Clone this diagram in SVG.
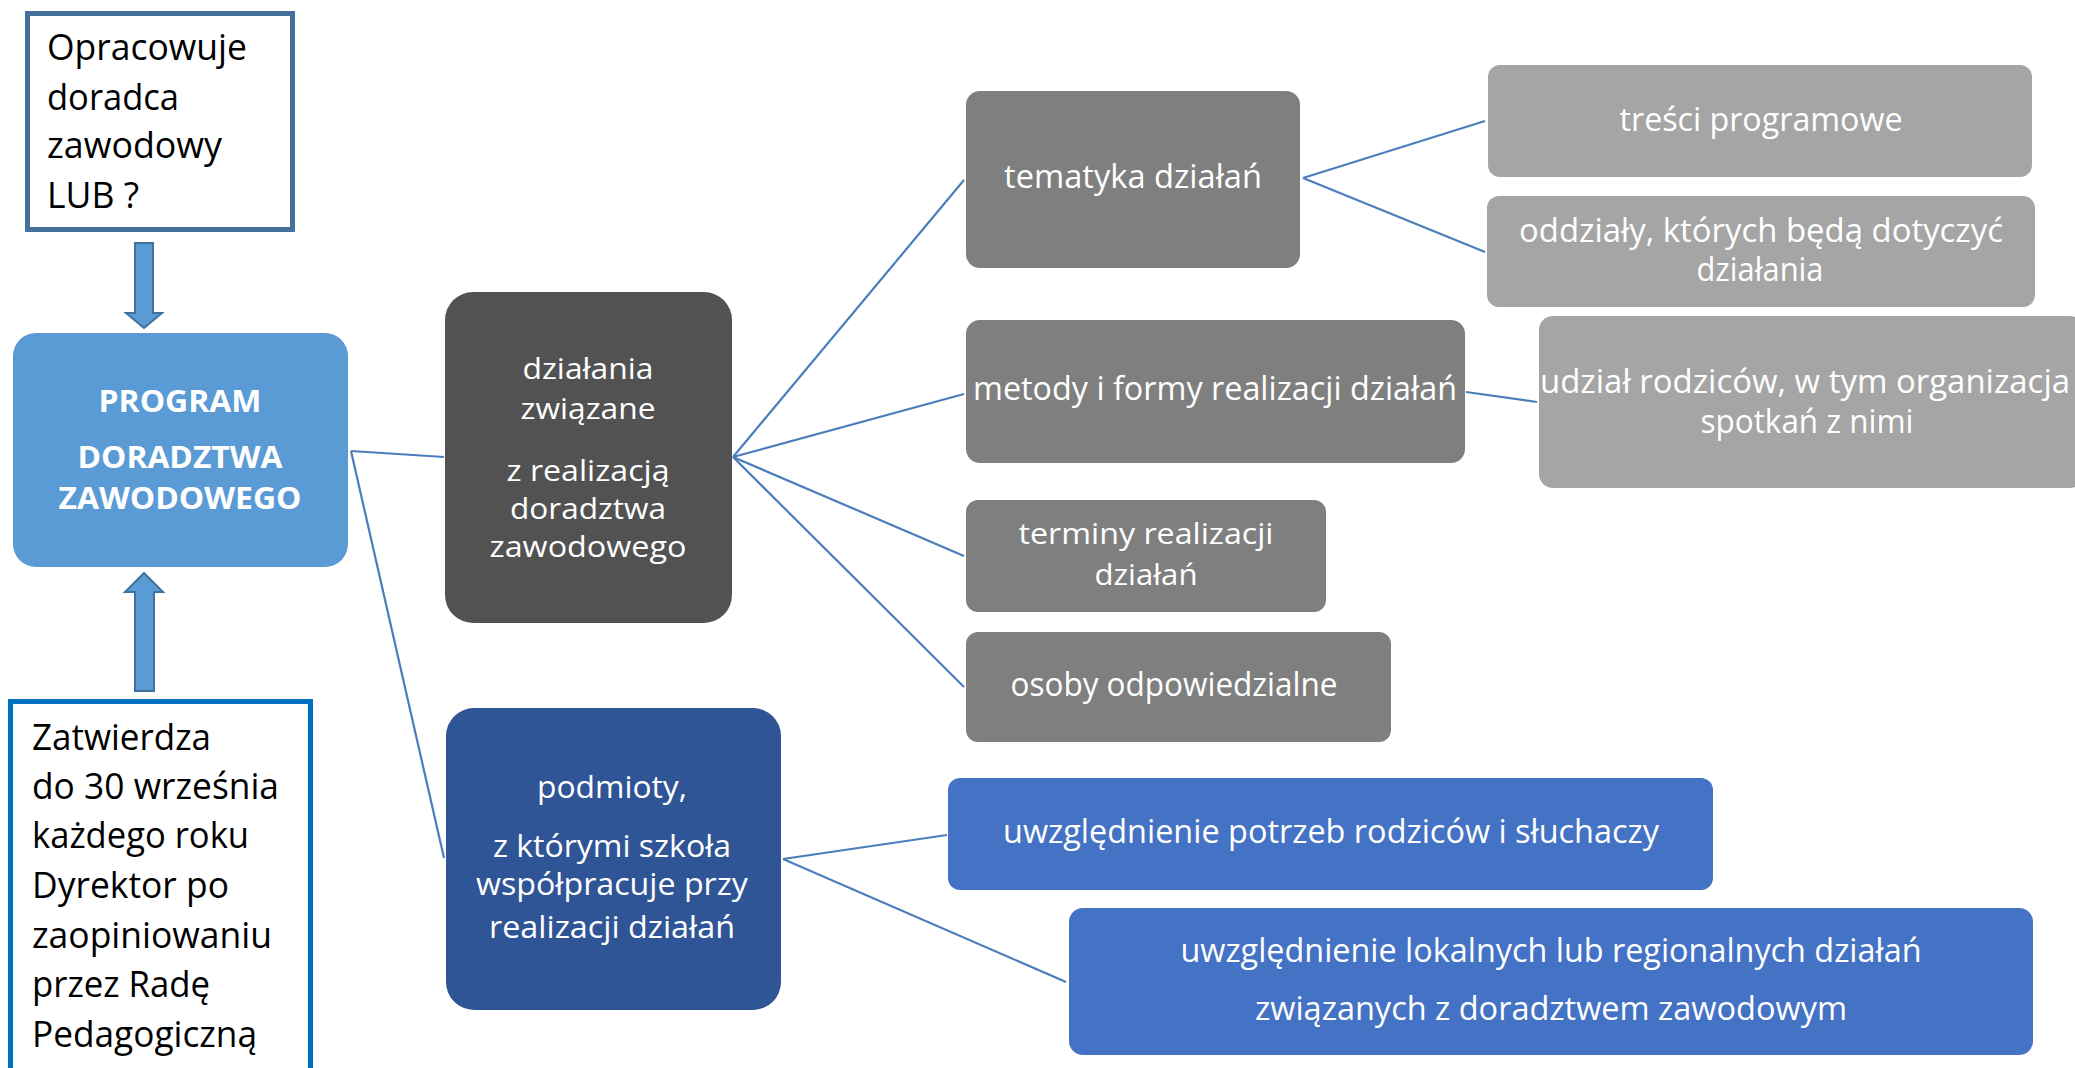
<svg xmlns="http://www.w3.org/2000/svg" width="2075" height="1068" viewBox="0 0 2075 1068">
<style>
text{font-family:"Open Sans","Noto Sans","DejaVu Sans",sans-serif;}
.w{fill:#ffffff;text-anchor:middle;}
.k{fill:#000000;}
.l35{font-size:36px;}
.r32{font-size:32px;}
.d30{font-size:31px;}
.dk{font-size:30px;}
.t30{font-size:30px;}
.b{font-weight:bold;font-size:31px;}
.conn{stroke:#4a7ebb;stroke-width:2.2;fill:none;}
.arrow{fill:#5b9bd5;stroke:#41719c;stroke-width:2;}
.g1{fill:#7f7f7f;}
.g2{fill:#a5a5a5;}
.bl{fill:#4472c4;}
</style>
<rect width="2075" height="1068" fill="#ffffff"/>
<g id="connectors">
<line class="conn" x1="351" y1="451" x2="444" y2="457"/>
<line class="conn" x1="351" y1="451" x2="444" y2="858"/>
<line class="conn" x1="733" y1="457" x2="964" y2="180"/>
<line class="conn" x1="733" y1="457" x2="964" y2="394"/>
<line class="conn" x1="733" y1="457" x2="964" y2="556"/>
<line class="conn" x1="733" y1="457" x2="964" y2="687"/>
<line class="conn" x1="1303" y1="178" x2="1485" y2="121"/>
<line class="conn" x1="1303" y1="178" x2="1485" y2="252"/>
<line class="conn" x1="1466" y1="392" x2="1537" y2="402"/>
<line class="conn" x1="783" y1="859" x2="947" y2="835"/>
<line class="conn" x1="783" y1="859" x2="1066" y2="982"/>
<path class="arrow" d="M135,243 H153 V313 H162 L144,328 L126,313 H135 Z"/>
<path class="arrow" d="M135,691 V592 H125 L144,573 L163,592 H154 V691 Z"/>
</g>
<g id="node-opracowuje">
<rect x="27.5" y="13.5" width="265" height="216" fill="#ffffff" stroke="#46709c" stroke-width="5"/>
<text class="k l35" x="47" y="60" textLength="200" lengthAdjust="spacingAndGlyphs">Opracowuje</text>
<text class="k l35" x="47" y="110" textLength="132" lengthAdjust="spacingAndGlyphs">doradca</text>
<text class="k l35" x="47" y="158" textLength="175" lengthAdjust="spacingAndGlyphs">zawodowy</text>
<text class="k l35" x="47" y="208" textLength="92" lengthAdjust="spacingAndGlyphs">LUB ?</text>
</g>
<g id="node-program">
<rect x="13" y="333" width="335" height="234" rx="23" fill="#5b9bd5"/>
<text class="w b" x="180" y="412" textLength="163" lengthAdjust="spacingAndGlyphs">PROGRAM</text>
<text class="w b" x="180" y="468" textLength="205" lengthAdjust="spacingAndGlyphs">DORADZTWA</text>
<text class="w b" x="180" y="509" textLength="243" lengthAdjust="spacingAndGlyphs">ZAWODOWEGO</text>
</g>
<g id="node-zatwierdza">
<rect x="10.5" y="701.5" width="300" height="380" fill="#ffffff" stroke="#0070c0" stroke-width="5"/>
<text class="k l35" x="32" y="750" textLength="179" lengthAdjust="spacingAndGlyphs">Zatwierdza</text>
<text class="k l35" x="32" y="799" textLength="247" lengthAdjust="spacingAndGlyphs">do 30 września</text>
<text class="k l35" x="32" y="848" textLength="217" lengthAdjust="spacingAndGlyphs">każdego roku</text>
<text class="k l35" x="32" y="898" textLength="197" lengthAdjust="spacingAndGlyphs">Dyrektor po</text>
<text class="k l35" x="32" y="948" textLength="240" lengthAdjust="spacingAndGlyphs">zaopiniowaniu</text>
<text class="k l35" x="32" y="997" textLength="178" lengthAdjust="spacingAndGlyphs">przez Radę</text>
<text class="k l35" x="32" y="1047" textLength="225" lengthAdjust="spacingAndGlyphs">Pedagogiczną</text>
</g>
<g id="node-dzialania">
<rect x="445" y="292" width="287" height="331" rx="28" fill="#525252"/>
<text class="w dk" x="588" y="379" textLength="131" lengthAdjust="spacingAndGlyphs">działania</text>
<text class="w dk" x="588" y="419" textLength="135" lengthAdjust="spacingAndGlyphs">związane</text>
<text class="w dk" x="588" y="481" textLength="163" lengthAdjust="spacingAndGlyphs">z realizacją</text>
<text class="w dk" x="588" y="519" textLength="156" lengthAdjust="spacingAndGlyphs">doradztwa</text>
<text class="w dk" x="588" y="557" textLength="197" lengthAdjust="spacingAndGlyphs">zawodowego</text>
</g>
<g id="node-podmioty">
<rect x="446" y="708" width="335" height="302" rx="28" fill="#2f5597"/>
<text class="w d30" x="612" y="798" textLength="150" lengthAdjust="spacingAndGlyphs">podmioty,</text>
<text class="w d30" x="612" y="857" textLength="238" lengthAdjust="spacingAndGlyphs">z którymi szkoła</text>
<text class="w d30" x="612" y="895" textLength="272" lengthAdjust="spacingAndGlyphs">współpracuje przy</text>
<text class="w d30" x="612" y="938" textLength="246" lengthAdjust="spacingAndGlyphs">realizacji działań</text>
</g>
<g id="node-tematyka">
<rect class="g1" x="966" y="91" width="334" height="177" rx="14"/>
<text class="w r32" x="1133" y="188" textLength="258" lengthAdjust="spacingAndGlyphs">tematyka działań</text>
</g>
<g id="node-tresci">
<rect class="g2" x="1488" y="65" width="544" height="112" rx="12"/>
<text class="w r32" x="1761" y="131" textLength="283" lengthAdjust="spacingAndGlyphs">treści programowe</text>
</g>
<g id="node-oddzialy">
<rect class="g2" x="1487" y="196" width="548" height="111" rx="12"/>
<text class="w r32" x="1761" y="242" textLength="484" lengthAdjust="spacingAndGlyphs">oddziały, których będą  dotyczyć</text>
<text class="w r32" x="1760" y="281" textLength="127" lengthAdjust="spacingAndGlyphs">działania</text>
</g>
<g id="node-metody">
<rect class="g1" x="966" y="320" width="499" height="143" rx="14"/>
<text class="w r32" x="1215" y="400" textLength="484" lengthAdjust="spacingAndGlyphs">metody i formy realizacji działań</text>
</g>
<g id="node-udzial">
<rect class="g2" x="1539" y="316" width="545" height="172" rx="14"/>
<text class="w r32" x="1805" y="393" textLength="530" lengthAdjust="spacingAndGlyphs">udział rodziców, w tym organizacja</text>
<text class="w r32" x="1807" y="433" textLength="213" lengthAdjust="spacingAndGlyphs">spotkań z nimi</text>
</g>
<g id="node-terminy">
<rect class="g1" x="966" y="500" width="360" height="112" rx="12"/>
<text class="w t30" x="1146" y="544" textLength="255" lengthAdjust="spacingAndGlyphs">terminy realizacji</text>
<text class="w t30" x="1146" y="585" textLength="103" lengthAdjust="spacingAndGlyphs">działań</text>
</g>
<g id="node-osoby">
<rect class="g1" x="966" y="632" width="425" height="110" rx="12"/>
<text class="w r32" x="1174" y="696" textLength="327" lengthAdjust="spacingAndGlyphs">osoby odpowiedzialne</text>
</g>
<g id="node-potrzeb">
<rect class="bl" x="948" y="778" width="765" height="112" rx="12"/>
<text class="w r32" x="1331" y="843" textLength="656" lengthAdjust="spacingAndGlyphs">uwzględnienie potrzeb rodziców i słuchaczy</text>
</g>
<g id="node-lokalnych">
<rect class="bl" x="1069" y="908" width="964" height="147" rx="14"/>
<text class="w r32" x="1551" y="962" textLength="741" lengthAdjust="spacingAndGlyphs">uwzględnienie lokalnych lub regionalnych działań</text>
<text class="w r32" x="1551" y="1020" textLength="592" lengthAdjust="spacingAndGlyphs">związanych z doradztwem zawodowym</text>
</g>
</svg>
